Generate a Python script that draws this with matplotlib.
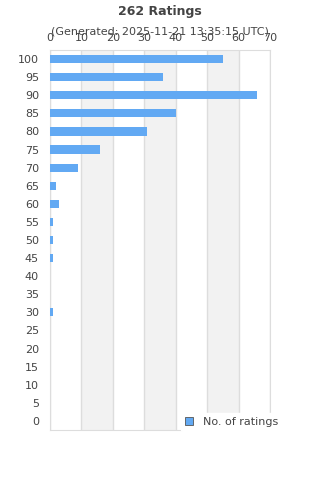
import matplotlib
matplotlib.use("Agg")
import matplotlib.pyplot as plt
from matplotlib.patches import Patch

# rating buckets and how many ratings fall in each
scores = [0, 5, 10, 15, 20, 25, 30, 35, 40, 45, 50, 55, 60, 65, 70, 75, 80, 85, 90, 95, 100]
counts = [0, 0, 0, 0, 0, 0, 1, 0, 0, 1, 1, 1, 3, 2, 9, 16, 31, 40, 66, 36, 55]
x_ticks = [0, 10, 20, 30, 40, 50, 60, 70]

title = "262 Ratings"
subtitle = "(Generated: 2025-11-21 13:35:15 UTC)"
series_name = "No. of ratings"

bar_color = "#62a9f3"
text_color = "#444444"
grid_color = "#dddddd"

fig = plt.figure(figsize=(3.2, 4.8), dpi=100)
ax = fig.add_axes([50 / 320, 1 - 430 / 480, 220 / 320, 380 / 480])

# alternating grey bands
for i in range(len(x_ticks) - 1):
    if i % 2 == 1:
        ax.axvspan(x_ticks[i], x_ticks[i + 1], color="#f2f2f2", zorder=0, lw=0)
for xt in x_ticks:
    ax.axvline(xt, color=grid_color, lw=1, zorder=1)

ypos = list(range(len(scores)))
ax.barh(ypos, counts, height=0.45, color=bar_color, zorder=3)

ax.set_xlim(0, 70)
ax.set_ylim(-0.5, len(scores) - 0.5)
ax.set_yticks(ypos)
ax.set_yticklabels([str(s) for s in scores])
ax.set_xticks(x_ticks)
ax.xaxis.tick_top()
ax.tick_params(axis="both", length=0, labelsize=8, colors=text_color)
ax.tick_params(axis="y", pad=8)
ax.tick_params(axis="x", pad=5)
for sp in ax.spines.values():
    sp.set_color(grid_color)

fig.text(0.5, 1 - 11 / 480, title, ha="center", va="center",
         fontsize=9, fontweight="bold", color=text_color)
fig.text(0.5, 1 - 31 / 480, subtitle, ha="center", va="center",
         fontsize=8, color=text_color)

handle = Patch(facecolor=bar_color, edgecolor="#555555", lw=0.6)
leg = fig.legend([handle], [series_name], loc="center left",
                 bbox_to_anchor=(175 / 320, 1 - 422 / 480), frameon=True,
                 fontsize=8, handlelength=0.7, handleheight=0.7,
                 borderpad=0.4, handletextpad=0.9, labelcolor=text_color)
leg.get_frame().set_edgecolor("white")
leg.get_frame().set_facecolor("white")
leg.get_frame().set_alpha(1)

fig.savefig("out.png", dpi=100)
